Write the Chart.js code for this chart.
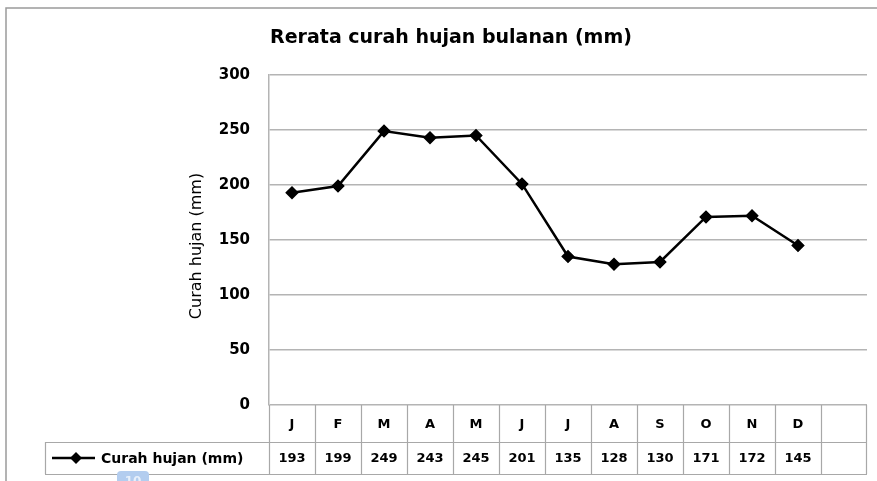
<!DOCTYPE html>
<html>
<head>
<meta charset="utf-8">
<script src="https://cdn.jsdelivr.net/npm/chart.js@4.4.1/dist/chart.umd.min.js"></script>
<style>
  html, body { margin: 0; padding: 0; background: #fff; }
  #wrap { width: 877px; height: 481px; }
</style>
</head>
<body>
<div id="wrap"><canvas id="rain"></canvas></div>
<script>
// data
const chartTitle = "Rerata curah hujan bulanan (mm)";
const axisTitle = "Curah hujan (mm)";
const seriesName = "Curah hujan (mm)";
const pageNumber = "10";
const months = ["J", "F", "M", "A", "M", "J", "J", "A", "S", "O", "N", "D"];
const rainfall = [193, 199, 249, 243, 245, 201, 135, 128, 130, 171, 172, 145];
const yMin = 0;
const yMax = 300;
const yStep = 50;

const gridColor = "#b4b4b4";
const tableColor = "#a8a8a8";
const boldFont = "bold 13px 'DejaVu Sans'";

// frame, titles and the data table under the plot
const decorations = {
  id: "decorations",
  beforeDraw(chart) {
    const ctx = chart.ctx;
    ctx.save();
    ctx.fillStyle = "#fff";
    ctx.fillRect(0, 0, chart.width, chart.height);
    ctx.strokeStyle = "#9a9a9a";
    ctx.lineWidth = 1.5;
    ctx.strokeRect(6, 8, chart.width + 20, chart.height + 20);
    ctx.restore();
  },
  afterDraw(chart) {
    const ctx = chart.ctx;
    const x = chart.scales.x;
    const area = chart.chartArea;
    const colW = x.getPixelForValue(1) - x.getPixelForValue(0);
    const top = area.bottom;
    const mid = top + 37;
    const bot = mid + 32;
    const legendLeft = 45;

    ctx.save();
    // title
    ctx.fillStyle = "#000";
    ctx.font = "bold 19px 'DejaVu Sans'";
    ctx.textAlign = "center";
    ctx.textBaseline = "middle";
    ctx.fillText(chartTitle, 451, 38);

    // y axis title
    ctx.save();
    ctx.translate(197, 246);
    ctx.rotate(-Math.PI / 2);
    ctx.font = "16px 'DejaVu Sans'";
    ctx.fillText(axisTitle, 0, 0);
    ctx.restore();

    // table lines
    ctx.strokeStyle = tableColor;
    ctx.lineWidth = 1.2;
    ctx.beginPath();
    ctx.moveTo(legendLeft, mid + 0.5);
    ctx.lineTo(area.right, mid + 0.5);
    ctx.moveTo(legendLeft, bot + 0.5);
    ctx.lineTo(area.right, bot + 0.5);
    ctx.moveTo(legendLeft + 0.5, mid);
    ctx.lineTo(legendLeft + 0.5, bot);
    for (let i = 0; i < x.ticks.length; i++) {
      const left = Math.round(x.getPixelForValue(i) - colW / 2) + 0.5;
      ctx.moveTo(left, top);
      ctx.lineTo(left, bot);
    }
    ctx.moveTo(area.right - 0.5, top);
    ctx.lineTo(area.right - 0.5, bot);
    ctx.stroke();

    // month row and value row
    ctx.font = boldFont;
    ctx.textAlign = "center";
    months.forEach((m, i) => {
      const cx = x.getPixelForValue(i);
      ctx.fillText(m, cx, (top + mid) / 2 + 1);
      ctx.fillText(String(rainfall[i]), cx, (mid + bot) / 2 + 1);
    });

    // legend key
    const ly = (mid + bot) / 2;
    ctx.strokeStyle = "#000";
    ctx.lineWidth = 2.5;
    ctx.beginPath();
    ctx.moveTo(52, ly);
    ctx.lineTo(95, ly);
    ctx.stroke();
    ctx.fillStyle = "#000";
    ctx.beginPath();
    ctx.moveTo(76, ly - 6);
    ctx.lineTo(82, ly);
    ctx.lineTo(76, ly + 6);
    ctx.lineTo(70, ly);
    ctx.closePath();
    ctx.fill();
    ctx.textAlign = "left";
    ctx.font = "bold 14px 'DejaVu Sans'";
    ctx.fillText(seriesName, 101, ly + 1);

    // page number tab peeking in at the bottom
    ctx.fillStyle = "#b3cdef";
    ctx.beginPath();
    ctx.roundRect(117, 471, 32, 16, 4);
    ctx.fill();
    ctx.fillStyle = "#e8f0fb";
    ctx.font = "bold 12px 'DejaVu Sans'";
    ctx.textAlign = "center";
    ctx.fillText(pageNumber, 133, 482);
    ctx.restore();
  }
};

new Chart(document.getElementById("rain"), {
  type: "line",
  data: {
    labels: [...months, ""],
    datasets: [{
      label: seriesName,
      data: rainfall,
      borderColor: "#000",
      backgroundColor: "#000",
      borderWidth: 2.5,
      tension: 0,
      pointStyle: "rectRot",
      pointRadius: 5,
      pointHoverRadius: 5
    }]
  },
  options: {
    responsive: true,
    maintainAspectRatio: false,
    animation: false,
    layout: { padding: { top: 75, bottom: 76, left: 0, right: 10 } },
    plugins: {
      legend: { display: false },
      title: { display: false },
      tooltip: { enabled: false }
    },
    scales: {
      x: {
        type: "category",
        display: false,
        offset: true
      },
      y: {
        min: yMin,
        max: yMax,
        afterFit(scale) { scale.width = 269; },
        border: { display: true, color: gridColor, width: 1.5 },
        grid: { color: gridColor, lineWidth: 1.5, drawTicks: false },
        ticks: {
          stepSize: yStep,
          padding: 19,
          color: "#000",
          font: { family: "'DejaVu Sans'", size: 15, weight: "bold" }
        }
      }
    }
  },
  plugins: [decorations]
});
</script>
</body>
</html>
